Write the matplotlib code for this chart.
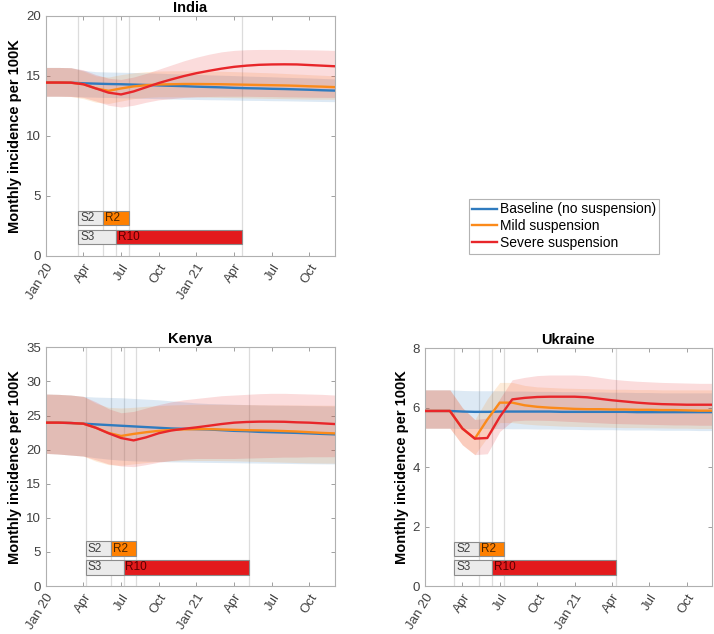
#!/usr/bin/env python3
"""Monthly incidence under suspension scenarios: India, Kenya, Ukraine."""

import matplotlib

matplotlib.use("Agg")
import matplotlib.pyplot as plt
from matplotlib.patches import Rectangle

plt.rcParams["font.family"] = ["Liberation Sans", "DejaVu Sans"]

# months since Jan 2020 (monthly model output)
months = list(range(24))
tick_pos = [0, 3, 6, 9, 12, 15, 18, 21]
tick_labels = ["Jan 20", "Apr", "Jul", "Oct", "Jan 21", "Apr", "Jul", "Oct"]
scenario_names = ["Baseline (no suspension)", "Mild suspension", "Severe suspension"]

# ---- India
india_base = [14.44, 14.44, 14.43, 14.38, 14.35, 14.32, 14.30, 14.27, 14.24, 14.20, 14.17, 14.14,
              14.10, 14.07, 14.04, 14.00, 13.97, 13.95, 13.92, 13.90, 13.87, 13.84, 13.80, 13.77]
india_base_lo = [13.30, 13.30, 13.30, 13.25, 13.22, 13.20, 13.17, 13.15, 13.12, 13.10, 13.07, 13.05,
                 13.03, 13.01, 13.00, 12.98, 12.96, 12.95, 12.93, 12.92, 12.90, 12.88, 12.86, 12.85]
india_base_hi = [15.70, 15.70, 15.68, 15.45, 15.35, 15.32, 15.30, 15.28, 15.25, 15.22, 15.18, 15.15,
                 15.12, 15.08, 15.05, 15.02, 14.98, 14.95, 14.92, 14.88, 14.85, 14.82, 14.78, 14.75]
india_mild = [14.44, 14.44, 14.43, 14.30, 13.95, 13.75, 13.95, 14.12, 14.22, 14.28, 14.30, 14.32,
              14.32, 14.31, 14.30, 14.28, 14.26, 14.24, 14.22, 14.20, 14.17, 14.13, 14.10, 14.06]
india_mild_lo = [13.30, 13.30, 13.28, 13.10, 12.80, 12.70, 12.90, 13.10, 13.20, 13.25, 13.25, 13.25,
                 13.25, 13.22, 13.20, 13.18, 13.16, 13.14, 13.12, 13.10, 13.08, 13.06, 13.05, 13.05]
india_mild_hi = [15.70, 15.70, 15.68, 15.40, 15.00, 14.90, 15.10, 15.25, 15.35, 15.40, 15.42, 15.42,
                 15.42, 15.40, 15.38, 15.35, 15.32, 15.28, 15.25, 15.20, 15.15, 15.10, 15.05, 15.00]
india_sev = [14.44, 14.44, 14.43, 14.30, 13.95, 13.60, 13.45, 13.70, 14.05, 14.40, 14.70, 14.98,
             15.22, 15.42, 15.60, 15.75, 15.85, 15.92, 15.95, 15.96, 15.95, 15.90, 15.85, 15.80]
india_sev_lo = [13.30, 13.30, 13.28, 13.20, 12.90, 12.55, 12.40, 12.55, 12.80, 13.00, 13.10, 13.20,
                13.25, 13.28, 13.30, 13.30, 13.30, 13.28, 13.27, 13.25, 13.24, 13.22, 13.21, 13.20]
india_sev_hi = [15.70, 15.70, 15.68, 15.50, 15.10, 14.80, 14.70, 14.90, 15.20, 15.55, 15.90, 16.25,
                16.55, 16.80, 17.00, 17.12, 17.18, 17.20, 17.20, 17.20, 17.18, 17.17, 17.15, 17.12]

# ---- Kenya
kenya_base = [23.95, 23.95, 23.90, 23.80, 23.70, 23.60, 23.50, 23.40, 23.30, 23.20, 23.10, 23.05,
              23.00, 22.95, 22.85, 22.75, 22.70, 22.60, 22.55, 22.50, 22.45, 22.38, 22.30, 22.24]
kenya_base_lo = [19.45, 19.35, 19.20, 19.05, 18.80, 18.60, 18.45, 18.35, 18.30, 18.25, 18.20, 18.18,
                 18.15, 18.12, 18.10, 18.08, 18.05, 18.02, 18.00, 17.98, 17.95, 17.93, 17.91, 17.90]
kenya_base_hi = [28.15, 28.10, 28.00, 27.80, 27.70, 27.65, 27.60, 27.50, 27.40, 27.30, 27.15, 27.00,
                 26.85, 26.75, 26.70, 26.65, 26.60, 26.55, 26.52, 26.50, 26.48, 26.45, 26.42, 26.40]
kenya_mild = [23.95, 23.95, 23.90, 23.80, 23.20, 22.45, 22.00, 22.30, 22.55, 22.75, 22.88, 22.97,
              23.00, 23.00, 22.95, 22.90, 22.85, 22.82, 22.78, 22.72, 22.65, 22.55, 22.45, 22.38]
kenya_mild_lo = [19.45, 19.35, 19.20, 19.05, 18.30, 17.80, 17.70, 17.90, 18.10, 18.25, 18.35, 18.40,
                 18.40, 18.40, 18.38, 18.35, 18.30, 18.25, 18.20, 18.15, 18.10, 18.05, 18.02, 18.00]
kenya_mild_hi = [28.15, 28.10, 28.00, 27.80, 26.80, 26.20, 26.10, 26.20, 26.35, 26.45, 26.55, 26.60,
                 26.65, 26.65, 26.65, 26.62, 26.60, 26.58, 26.56, 26.55, 26.54, 26.52, 26.51, 26.50]
kenya_sev = [23.95, 23.95, 23.90, 23.80, 23.20, 22.40, 21.70, 21.35, 21.80, 22.40, 22.80, 23.05,
             23.26, 23.50, 23.75, 23.95, 24.05, 24.10, 24.10, 24.08, 24.00, 23.95, 23.85, 23.75]
kenya_sev_lo = [19.45, 19.35, 19.20, 19.05, 18.50, 17.90, 17.60, 17.50, 17.80, 18.15, 18.40, 18.60,
                18.70, 18.70, 18.70, 18.70, 18.75, 18.80, 18.85, 18.90, 18.90, 18.95, 18.95, 18.96]
kenya_sev_hi = [28.15, 28.10, 28.00, 27.80, 27.00, 26.00, 25.40, 25.60, 26.10, 26.60, 27.00, 27.30,
                27.50, 27.70, 27.90, 28.00, 28.10, 28.20, 28.25, 28.25, 28.20, 28.15, 28.10, 28.00]

# ---- Ukraine
ukraine_base = [5.89, 5.89, 5.89, 5.87, 5.86, 5.86, 5.87, 5.87, 5.87, 5.87, 5.87, 5.86,
                5.86, 5.86, 5.86, 5.86, 5.86, 5.85, 5.85, 5.85, 5.85, 5.85, 5.85, 5.85]
ukraine_base_lo = [5.31, 5.31, 5.31, 5.30, 5.30, 5.30, 5.30, 5.29, 5.29, 5.28, 5.28, 5.27,
                   5.27, 5.26, 5.26, 5.26, 5.25, 5.25, 5.25, 5.24, 5.24, 5.24, 5.23, 5.23]
ukraine_base_hi = [6.60, 6.60, 6.60, 6.58, 6.57, 6.57, 6.57, 6.56, 6.56, 6.55, 6.55, 6.54,
                   6.54, 6.53, 6.53, 6.52, 6.52, 6.51, 6.51, 6.50, 6.50, 6.50, 6.50, 6.50]
ukraine_mild = [5.89, 5.89, 5.89, 5.30, 4.96, 5.60, 6.17, 6.17, 6.08, 6.03, 6.00, 5.98,
                5.96, 5.95, 5.95, 5.94, 5.94, 5.93, 5.93, 5.92, 5.92, 5.91, 5.90, 5.90]
ukraine_mild_lo = [5.31, 5.31, 5.31, 4.75, 4.42, 5.00, 5.50, 5.50, 5.45, 5.42, 5.40, 5.38,
                   5.37, 5.36, 5.35, 5.34, 5.33, 5.33, 5.32, 5.32, 5.31, 5.31, 5.30, 5.30]
ukraine_mild_hi = [6.60, 6.60, 6.60, 6.00, 5.60, 6.30, 6.85, 6.85, 6.75, 6.70, 6.68, 6.66,
                   6.65, 6.64, 6.63, 6.62, 6.62, 6.61, 6.61, 6.60, 6.60, 6.60, 6.60, 6.60]
ukraine_sev = [5.89, 5.89, 5.89, 5.30, 4.96, 4.98, 5.69, 6.28, 6.33, 6.36, 6.37, 6.37,
               6.37, 6.35, 6.30, 6.25, 6.21, 6.17, 6.14, 6.12, 6.11, 6.10, 6.10, 6.10]
ukraine_sev_lo = [5.31, 5.31, 5.31, 4.75, 4.42, 4.45, 5.20, 5.55, 5.58, 5.58, 5.57, 5.55,
                  5.53, 5.51, 5.49, 5.47, 5.46, 5.45, 5.44, 5.43, 5.42, 5.42, 5.41, 5.41]
ukraine_sev_hi = [6.60, 6.60, 6.60, 6.00, 5.60, 5.65, 6.30, 6.94, 7.02, 7.08, 7.10, 7.10,
                  7.10, 7.08, 7.02, 6.96, 6.92, 6.89, 6.87, 6.85, 6.84, 6.83, 6.82, 6.82]

# suspension start, S2 end, R2 end, S3 end, R10 end (months since Jan 2020)
india_events = [2.6, 4.6, 6.6, 5.6, 15.6]
kenya_events = [3.2, 5.2, 7.2, 6.2, 16.2]
ukraine_events = [2.35, 4.35, 6.35, 5.35, 15.35]

COLORS = ["#2f7bbf", "#fb8a1a", "#e8262a"]
GREY_TXT = "#404040"


def draw_panel(ax, title, series, events, ymax, yticks):
    start, s2_end, r2_end, s3_end, r10_end = events
    for ev in events:
        ax.axvline(ev, color="#dcdcdc", lw=0.9, zorder=1)
    for (mean, lo, hi), color in zip(series, COLORS):
        ax.fill_between(months, lo, hi, color=color, alpha=0.16, lw=0, zorder=2)
    for (mean, lo, hi), color, name in zip(series, COLORS, scenario_names):
        ax.plot(months, mean, color=color, lw=1.7, label=name, zorder=3)

    # scenario timing bars
    h = 0.06 * ymax
    rows = [
        (0.157 * ymax, s2_end, r2_end, "S2", "R2", "#ff8000", "#4a2500"),
        (0.078 * ymax, s3_end, r10_end, "S3", "R10", "#e31a1c", "#5a0000"),
    ]
    for yc, s_end, r_end, s_lab, r_lab, r_col, r_txt in rows:
        ax.add_patch(Rectangle((start, yc - h / 2), s_end - start, h, facecolor="#ebebeb",
                               edgecolor="#8c8c8c", lw=0.8, zorder=4))
        ax.add_patch(Rectangle((s_end, yc - h / 2), r_end - s_end, h, facecolor=r_col,
                               edgecolor="#8c8c8c", lw=0.8, zorder=4))
        ax.text(start + 0.15, yc, s_lab, fontsize=8.5, color=GREY_TXT, va="center", zorder=5)
        ax.text(s_end + 0.15, yc, r_lab, fontsize=8.5, color=r_txt, va="center", zorder=5)

    ax.set_xlim(0, 23)
    ax.set_ylim(0, ymax)
    ax.set_yticks(yticks)
    ax.set_xticks(tick_pos)
    ax.set_xticklabels(tick_labels, rotation=58, ha="right", rotation_mode="anchor")
    ax.tick_params(direction="in", top=True, right=True, length=3, width=0.6,
                   colors="#909090", labelcolor=GREY_TXT, labelsize=9.5)
    ax.tick_params(axis="x", pad=4)
    for sp in ax.spines.values():
        sp.set_color("#b0b0b0")
        sp.set_linewidth(0.8)
    ax.set_title(title, fontsize=10.5, fontweight="bold", pad=3)
    ax.set_ylabel("Monthly incidence per 100K", fontsize=10.5, fontweight="bold", labelpad=3)


fig = plt.figure(figsize=(7.14, 6.34), dpi=100)
ax_in = fig.add_axes([0.064, 0.5965, 0.4045, 0.3785])
ax_ke = fig.add_axes([0.064, 0.0757, 0.4045, 0.3765])
ax_uk = fig.add_axes([0.5952, 0.0757, 0.4016, 0.3750])

draw_panel(ax_in, "India",
           [(india_base, india_base_lo, india_base_hi),
            (india_mild, india_mild_lo, india_mild_hi),
            (india_sev, india_sev_lo, india_sev_hi)],
           india_events, 20, [0, 5, 10, 15, 20])
draw_panel(ax_ke, "Kenya",
           [(kenya_base, kenya_base_lo, kenya_base_hi),
            (kenya_mild, kenya_mild_lo, kenya_mild_hi),
            (kenya_sev, kenya_sev_lo, kenya_sev_hi)],
           kenya_events, 35, [0, 5, 10, 15, 20, 25, 30, 35])
draw_panel(ax_uk, "Ukraine",
           [(ukraine_base, ukraine_base_lo, ukraine_base_hi),
            (ukraine_mild, ukraine_mild_lo, ukraine_mild_hi),
            (ukraine_sev, ukraine_sev_lo, ukraine_sev_hi)],
           ukraine_events, 8, [0, 2, 4, 6, 8])

handles, labels = ax_in.get_legend_handles_labels()
leg = fig.legend(handles, labels, loc="upper left", bbox_to_anchor=(469 / 714, 1 - 199 / 634),
                 fontsize=10, frameon=True, fancybox=False, handlelength=1.8,
                 handletextpad=0.15, borderpad=0.25, labelspacing=0.2, borderaxespad=0)
leg.get_frame().set_edgecolor("#a0a0a0")
leg.get_frame().set_linewidth(0.8)

fig.savefig("out.png", dpi=100)
